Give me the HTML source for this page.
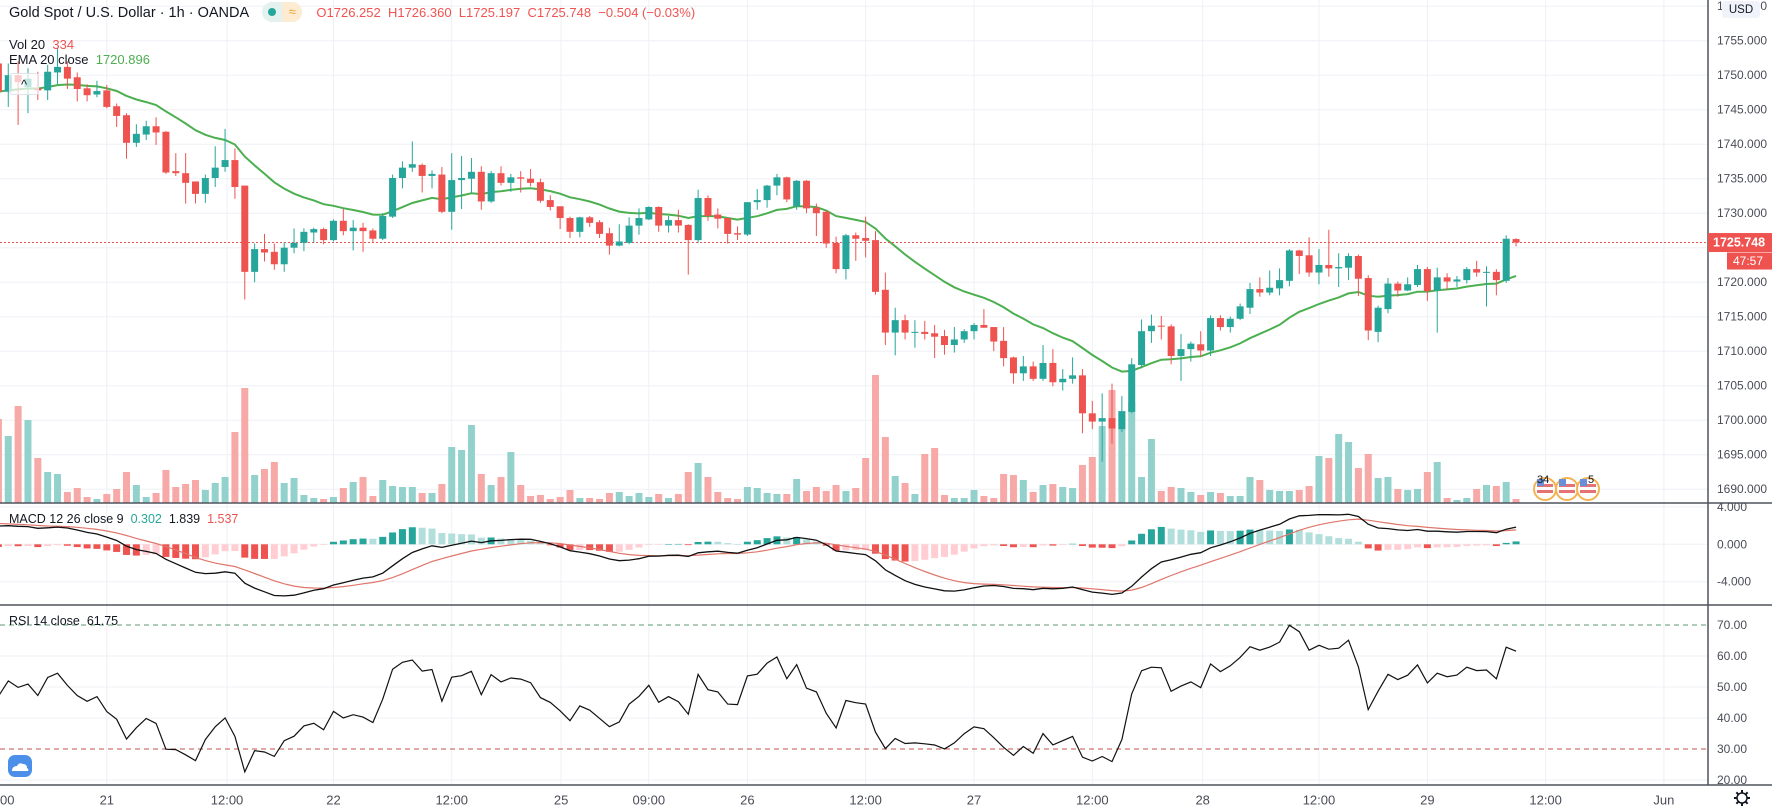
<!DOCTYPE html>
<html><head><meta charset="utf-8">
<style>
html,body{margin:0;padding:0;background:#fff;}
body{width:1772px;height:811px;overflow:hidden;position:relative;font-family:"Liberation Sans",sans-serif;}
svg{position:absolute;left:0;top:0;}
.lg{position:absolute;left:9px;white-space:nowrap;color:#131722;}
</style></head>
<body>
<svg id="chart" width="1772" height="811"></svg>

<div class="lg" style="top:3px;font-size:14.5px;">
<span>Gold Spot / U.S. Dollar · 1h · OANDA</span>
<span style="display:inline-block;width:40px;height:20px;border-radius:10px;background:#e3f2ef;vertical-align:middle;margin-left:10px;position:relative;top:-1px;"><span style="position:absolute;left:6px;top:6px;width:8px;height:8px;border-radius:4px;background:#26a69a;"></span><span style="position:absolute;left:20px;top:0;width:20px;height:20px;border-radius:0 10px 10px 0;background:#fdecd2;color:#f0a030;font-size:13px;line-height:20px;text-align:center;">≈</span></span>
<span style="font-size:13px;color:#ef5350;margin-left:10px;">O1726.252&nbsp; H1726.360&nbsp; L1725.197&nbsp; C1725.748&nbsp; −0.504 (−0.03%)</span>
</div>
<div class="lg" style="top:37px;font-size:13px;">Vol 20 &nbsp;<span style="color:#ef5350">334</span></div>
<div class="lg" style="top:52px;font-size:13px;">EMA 20 close &nbsp;<span style="color:#4caf50">1720.896</span></div>
<div style="position:absolute;left:9px;top:73px;width:28px;height:20px;border:1px solid #e0e3eb;border-radius:3px;background:rgba(255,255,255,0.7);font-size:13px;text-align:center;line-height:22px;color:#131722;">^</div>
<div class="lg" style="top:512px;font-size:12.5px;">MACD 12 26 close 9 &nbsp;<span style="color:#26a69a">0.302</span>&nbsp; <span>1.839</span>&nbsp; <span style="color:#ef5350">1.537</span></div>
<div class="lg" style="top:614px;font-size:12.5px;">RSI 14 close &nbsp;<span>61.75</span></div>

<script>
const opens=[1751.7,1747.6,1750.0,1748.3,1748.1,1747.8,1750.4,1751.2,1749.7,1748.1,1747.2,1747.8,1745.5,1744.2,1740.2,1741.4,1742.6,1741.8,1736.1,1735.8,1734.6,1732.8,1735.1,1736.7,1737.7,1734.0,1721.5,1724.8,1724.4,1722.6,1725.0,1725.7,1727.2,1727.7,1726.1,1728.9,1727.4,1727.9,1727.5,1726.3,1729.5,1735.1,1736.6,1737.0,1735.4,1735.6,1730.2,1734.8,1735.0,1736.0,1731.7,1735.8,1734.4,1735.2,1735.0,1734.5,1731.9,1731.0,1729.3,1727.3,1729.4,1728.7,1727.1,1725.3,1725.7,1728.2,1729.1,1730.9,1728.2,1729.0,1728.3,1726.1,1732.2,1729.8,1729.3,1727.1,1726.9,1731.6,1731.9,1734.0,1735.2,1731.0,1734.7,1730.8,1730.2,1725.7,1721.9,1726.8,1726.4,1726.1,1718.9,1712.7,1714.5,1712.7,1712.8,1712.6,1712.2,1710.9,1711.7,1712.9,1713.8,1713.5,1711.5,1709.1,1706.8,1707.8,1706.0,1708.3,1705.5,1706.0,1706.5,1701.0,1699.8,1700.3,1698.7,1701.2,1708.0,1712.9,1713.7,1713.6,1709.3,1710.3,1711.0,1710.1,1714.8,1713.5,1714.7,1716.3,1719.0,1718.5,1719.1,1720.2,1724.6,1723.9,1721.4,1722.5,1722.0,1722.1,1723.8,1720.6,1712.8,1716.1,1719.8,1718.8,1719.6,1721.9,1718.8,1720.7,1720.1,1720.3,1721.9,1721.4,1721.5,1720.2,1726.252];
const highs=[1753.0,1751.7,1752.0,1751.0,1750.5,1751.5,1754.0,1752.0,1750.4,1748.7,1749.2,1748.6,1745.9,1744.5,1742.9,1743.4,1743.9,1741.9,1738.7,1738.7,1734.6,1735.6,1739.7,1742.2,1739.4,1734.0,1725.6,1727.0,1725.6,1725.8,1727.8,1727.8,1727.9,1727.9,1729.1,1730.6,1729.0,1728.6,1727.8,1730.0,1735.6,1737.5,1740.4,1737.2,1736.2,1736.7,1738.7,1738.3,1738.0,1736.8,1736.1,1736.8,1735.7,1736.1,1736.4,1735.0,1732.6,1731.0,1729.5,1729.5,1729.6,1729.0,1727.9,1728.4,1729.4,1730.7,1731.0,1731.0,1729.6,1730.5,1728.4,1733.4,1732.6,1730.7,1729.3,1728.1,1731.6,1733.5,1734.1,1735.7,1735.3,1734.8,1734.8,1731.4,1730.4,1726.6,1727.0,1727.2,1729.5,1727.4,1721.4,1716.3,1715.3,1714.5,1714.4,1713.8,1713.1,1713.5,1713.2,1714.1,1716.1,1713.5,1713.5,1709.2,1709.3,1708.5,1710.9,1710.3,1707.4,1709.1,1707.4,1702.8,1703.9,1705.3,1703.5,1709.0,1714.6,1715.3,1715.1,1713.9,1712.5,1711.4,1712.9,1715.2,1715.2,1715.0,1716.9,1719.9,1720.7,1721.7,1722.0,1724.8,1724.7,1726.5,1724.8,1727.6,1724.2,1724.2,1724.0,1721.0,1716.6,1720.6,1720.1,1720.7,1722.5,1722.2,1722.1,1721.3,1720.9,1722.2,1723.1,1722.3,1721.9,1726.8,1726.36];
const lows=[1747.0,1745.4,1742.8,1744.5,1746.4,1746.4,1748.6,1748.0,1746.2,1746.2,1746.8,1745.2,1742.5,1737.9,1739.6,1740.6,1739.9,1735.7,1735.4,1731.4,1731.4,1731.5,1733.8,1736.0,1732.1,1717.5,1720.0,1723.0,1721.8,1721.5,1724.2,1724.5,1725.7,1725.5,1725.9,1726.8,1724.6,1724.4,1725.7,1726.1,1729.3,1733.6,1736.0,1733.0,1733.6,1730.0,1727.6,1730.6,1732.9,1730.5,1731.5,1734.0,1733.1,1733.0,1733.9,1731.5,1730.4,1727.7,1726.4,1726.5,1728.0,1726.4,1724.0,1725.2,1725.5,1726.9,1729.0,1727.3,1727.2,1727.2,1721.1,1725.7,1728.9,1727.8,1725.6,1726.1,1726.7,1730.5,1730.8,1732.6,1731.6,1730.5,1730.0,1726.7,1725.0,1721.3,1720.4,1723.1,1723.6,1718.2,1710.9,1709.4,1711.7,1710.5,1711.7,1709.0,1709.5,1709.8,1711.2,1711.7,1713.4,1710.0,1707.8,1705.3,1705.7,1705.7,1705.7,1704.9,1704.3,1705.3,1698.1,1698.7,1694.0,1696.6,1698.3,1701.0,1707.5,1711.2,1711.7,1708.1,1705.7,1708.5,1709.2,1709.3,1713.0,1712.7,1714.5,1715.4,1717.9,1718.1,1718.1,1719.4,1721.2,1720.8,1719.7,1720.8,1719.3,1720.3,1718.0,1711.6,1711.3,1715.5,1717.9,1718.7,1719.3,1717.3,1712.7,1718.9,1719.3,1719.8,1720.8,1716.5,1718.1,1719.9,1725.197];
const closes=[1747.6,1750.0,1749.0,1749.5,1747.8,1750.5,1751.2,1749.5,1748.0,1747.1,1747.7,1745.4,1744.1,1740.2,1741.5,1742.6,1741.7,1735.9,1735.8,1734.4,1732.8,1735.1,1736.6,1737.7,1733.8,1721.5,1724.8,1724.3,1722.6,1725.0,1725.7,1727.3,1727.7,1726.1,1728.9,1727.4,1727.9,1727.4,1726.3,1729.6,1735.1,1736.6,1737.1,1735.4,1735.7,1730.2,1734.8,1735.1,1736.0,1731.7,1735.8,1734.4,1735.2,1735.0,1734.4,1731.8,1730.9,1729.3,1727.3,1729.4,1728.6,1727.0,1725.3,1725.9,1728.2,1729.3,1730.9,1728.2,1729.0,1728.2,1726.1,1732.2,1729.6,1729.2,1727.0,1726.9,1731.6,1731.9,1734.0,1735.2,1732.0,1734.7,1730.7,1730.0,1725.6,1721.9,1726.8,1726.3,1726.0,1718.6,1712.7,1714.5,1712.7,1712.8,1712.5,1712.1,1710.9,1711.7,1712.9,1713.8,1713.4,1711.4,1709.0,1706.8,1707.8,1706.0,1708.3,1705.5,1706.0,1706.5,1701.0,1699.8,1700.3,1698.8,1701.3,1708.1,1712.9,1713.7,1713.6,1709.3,1710.3,1711.1,1710.1,1714.8,1713.5,1714.7,1716.5,1719.0,1718.5,1719.2,1720.3,1724.6,1723.8,1721.4,1722.5,1722.0,1722.2,1723.8,1720.5,1713.0,1716.3,1719.8,1718.8,1719.7,1721.9,1718.7,1720.7,1720.1,1720.4,1721.9,1721.4,1721.5,1720.3,1726.3,1725.748];
const volumes=[84,67,97,83,45,31,29,11,15,6,4,9,14,31,18,6,10,33,16,19,23,13,20,26,71,115,28,34,41,20,25,8,5,4,6,15,21,26,7,23,17,16,16,10,10,19,56,53,78,29,18,26,51,18,7,8,4,6,13,5,5,4,10,11,7,10,6,9,5,9,31,40,26,11,5,4,16,15,10,9,9,24,12,16,12,18,12,15,45,128,66,27,20,9,49,55,8,5,5,13,7,5,29,28,23,11,18,19,16,15,38,46,77,113,92,100,26,64,12,16,15,11,8,11,10,7,7,26,23,13,12,12,13,17,47,45,69,61,35,49,25,26,14,13,14,31,41,5,3,5,14,18,17,21,4];
const priceTicks=[1760,1755,1750,1745,1740,1735,1730,1725,1720,1715,1710,1705,1700,1695,1690];
const macdTicks=[4,0,-4];
const rsiTicks=[70,60,50,40,30,20];
const timeLabels=["21","12:00","22","12:00","25","09:00","26","12:00","27","12:00","28","12:00","29","12:00","Jun"];
const timeIdx=[11,23.2,34,46,57.1,66,76,88,99,111,122.2,134,145,157,169];
const emaSeed=1747.6, ema12Seed=1747.6, ema26Seed=1745.5, signalSeed=2.3, gainSeed=0.9, lossSeed=0.7;

const svg=document.getElementById('chart');
const NS='http://www.w3.org/2000/svg';
function mk(tag,attrs,parent){const e=document.createElementNS(NS,tag);for(const k in attrs)e.setAttribute(k,attrs[k]);(parent||svg).appendChild(e);return e;}
const PLOT_R=1708;
const xI=i=>-1.6+i*9.855;
const yP=p=>40.7+(1755-p)*6.9;
const yV=v=>503-v;
const yM=m=>544.3-m*9.35;
const yR=r=>749-(r-30)*3.1;
const UP='#26a69a',DN='#ef5350';

// grid
const grid=mk('g',{});


timeIdx.forEach(i=>{const x=xI(i);if(x<PLOT_R)mk('line',{x1:x,x2:x,y1:0,y2:785,stroke:'#eef0f5','stroke-width':1},grid);});
priceTicks.forEach(p=>mk('line',{x1:0,x2:PLOT_R,y1:yP(p),y2:yP(p),stroke:'#eef0f5'},grid));
macdTicks.forEach(m=>mk('line',{x1:0,x2:PLOT_R,y1:yM(m),y2:yM(m),stroke:'#eef0f5'},grid));
rsiTicks.forEach(r=>{if(r!==70&&r!==30)mk('line',{x1:0,x2:PLOT_R,y1:yR(r),y2:yR(r),stroke:'#eef0f5'},grid);});

// volume
const vg=mk('g',{});


volumes.forEach((v,i)=>{const up=closes[i]>=opens[i];const r=mk('rect',{x:xI(i)-3.5,y:yV(v),width:7,height:503-yV(v),fill:up?'#93d2cc':'#f7a9a7'},vg);

});

// EMA
let e=emaSeed;const a=2/21;const emaPts=[];
closes.forEach((c,i)=>{e=e+(c-e)*a;emaPts.push(xI(i).toFixed(1)+','+yP(e).toFixed(1));});
const emaLine=mk('polyline',{points:emaPts.join(' '),fill:'none',stroke:'#4caf50','stroke-width':2});



// current price line
const cp=closes[closes.length-1];
const cpl=mk('line',{x1:0,x2:PLOT_R,y1:yP(cp),y2:yP(cp),stroke:'#ef5350','stroke-dasharray':'2,2','stroke-width':1});



// candles
const cg=mk('g',{});


closes.forEach((c,i)=>{const o=opens[i],up=c>=o,col=up?UP:DN,x=xI(i);
const w=mk('line',{x1:x,x2:x,y1:yP(highs[i]),y2:yP(lows[i]),stroke:col,'stroke-width':1},cg);


const t=yP(Math.max(o,c)),b=yP(Math.min(o,c));
const r=mk('rect',{x:x-3.5,y:t,width:7,height:Math.max(1,b-t),fill:col},cg);

});

// MACD
let e12=ema12Seed,e26=ema26Seed,sig=signalSeed;const macd=[],signal=[],hist=[];
closes.forEach(c=>{e12+= (c-e12)*2/13;e26+=(c-e26)*2/27;const m=e12-e26;sig+=(m-sig)*2/10;macd.push(m);signal.push(sig);hist.push(m-sig);});
const hg=mk('g',{});


hist.forEach((h,i)=>{const prev=i?hist[i-1]:h;let col;if(h>=0)col=h>=prev?'#26a69a':'#b2dfdb';else col=h<=prev?'#ef5350':'#ffcdd2';
const y0=yM(0),y1=yM(h);const r=mk('rect',{x:xI(i)-3.5,y:Math.min(y0,y1),width:7,height:Math.max(0.5,Math.abs(y1-y0)),fill:col},hg);

});
const sl=mk('polyline',{points:signal.map((v,i)=>xI(i).toFixed(1)+','+yM(v).toFixed(1)).join(' '),fill:'none',stroke:'#e0766b','stroke-width':1.2});


const ml=mk('polyline',{points:macd.map((v,i)=>xI(i).toFixed(1)+','+yM(v).toFixed(1)).join(' '),fill:'none',stroke:'#111','stroke-width':1.3});



// RSI
const b70=mk('line',{x1:0,x2:PLOT_R,y1:yR(70),y2:yR(70),stroke:'#5d9a70','stroke-dasharray':'5,4'});


const b30=mk('line',{x1:0,x2:PLOT_R,y1:yR(30),y2:yR(30),stroke:'#c0504d','stroke-dasharray':'5,4'});


let ag=gainSeed,al=lossSeed,pc=opens[0];const rsi=[];
closes.forEach(c=>{const d=c-pc;pc=c;ag=(ag*13+Math.max(d,0))/14;al=(al*13+Math.max(-d,0))/14;rsi.push(100-100/(1+ag/al));});
const rl=mk('polyline',{points:rsi.map((v,i)=>xI(i).toFixed(1)+','+yR(v).toFixed(1)).join(' '),fill:'none',stroke:'#111','stroke-width':1.2});



// event flags
[[1545,'34'],[1567,''],[1588,'5']].forEach(([x,t])=>{const g=mk('g',{});


mk('circle',{cx:x,cy:489,r:11,fill:'#fff',stroke:'#f2b350','stroke-width':2},g);
mk('rect',{x:x-8,y:484,width:16,height:3,fill:'#e57373'},g);mk('rect',{x:x-8,y:490,width:16,height:3,fill:'#e57373'},g);
mk('rect',{x:x-8,y:479,width:7,height:7,fill:'#6a8fd8'},g);
if(t){const tx=mk('text',{x:x+(t.length>1?-8:0),y:483,'font-size':11,'font-family':'Liberation Sans, sans-serif',fill:'#131722'},g);tx.textContent=t;}});

// separators & axes
[[503],[605],[785]].forEach(([y])=>{const l=mk('line',{x1:0,x2:1772,y1:y,y2:y,stroke:'#50535e','stroke-width':1.5});

});
const ax=mk('line',{x1:PLOT_R,x2:PLOT_R,y1:0,y2:785,stroke:'#50535e','stroke-width':1.5});


function label(x,y,t,opts,name){const tx=mk('text',Object.assign({x:x,y:y,'font-size':12,'font-family':'Liberation Sans, sans-serif',fill:'#4a4d57','dominant-baseline':'central'},opts||{}));tx.textContent=t;

return tx;}
priceTicks.forEach(p=>label(1717,yP(p),p.toFixed(3),{},'price-tick-label'));
macdTicks.forEach(m=>label(1717,yM(m),m.toFixed(3),{},'macd-tick-label'));
rsiTicks.forEach(r=>label(1717,yR(r),r.toFixed(2),{},'rsi-tick-label'));
timeLabels.forEach((t,k)=>{const x=xI(timeIdx[k]);if(x<PLOT_R-10)label(x,800,t,{'text-anchor':'middle','font-size':13},'time-tick-label');});
label(0,800,'00',{'font-size':13},'time-tick-label');

// USD badge
const ub=mk('rect',{x:1722,y:1,width:38,height:17,rx:3,fill:'#f0f3fa'});


label(1741,10,'USD',{'text-anchor':'middle','font-size':11.5,fill:'#131722'},'currency-label');

// last price labels
const pb=mk('rect',{x:PLOT_R,y:yP(cp)-9.5,width:64,height:19,fill:'#ef5350'});


label(1713,yP(cp),cp.toFixed(3),{fill:'#fff','font-size':12.5,'font-weight':'bold'},'last-price-text');
const cb=mk('rect',{x:1727,y:yP(cp)+10,width:45,height:17,fill:'#ef5350'});


label(1733,yP(cp)+18.5,'47:57',{fill:'#fff','font-size':12},'bar-countdown-text');

// logo & settings
const lg=mk('g',{});


mk('rect',{x:8,y:755,width:24,height:22,rx:7,fill:'#4c8fe8'},lg);
mk('path',{d:'M12 771 q0-5 5-5 q2-4 6-2 q4 0 4 4 q2 1 1 3 z',fill:'#fff'},lg);
const gear=mk('g',{});


mk('circle',{cx:1742,cy:798,r:5,fill:'none',stroke:'#131722','stroke-width':1.5},gear);
for(let k=0;k<8;k++){const an=k*Math.PI/4;mk('line',{x1:1742+Math.cos(an)*5,y1:798+Math.sin(an)*5,x2:1742+Math.cos(an)*8,y2:798+Math.sin(an)*8,stroke:'#131722','stroke-width':2},gear);}
</script>
</body></html>
